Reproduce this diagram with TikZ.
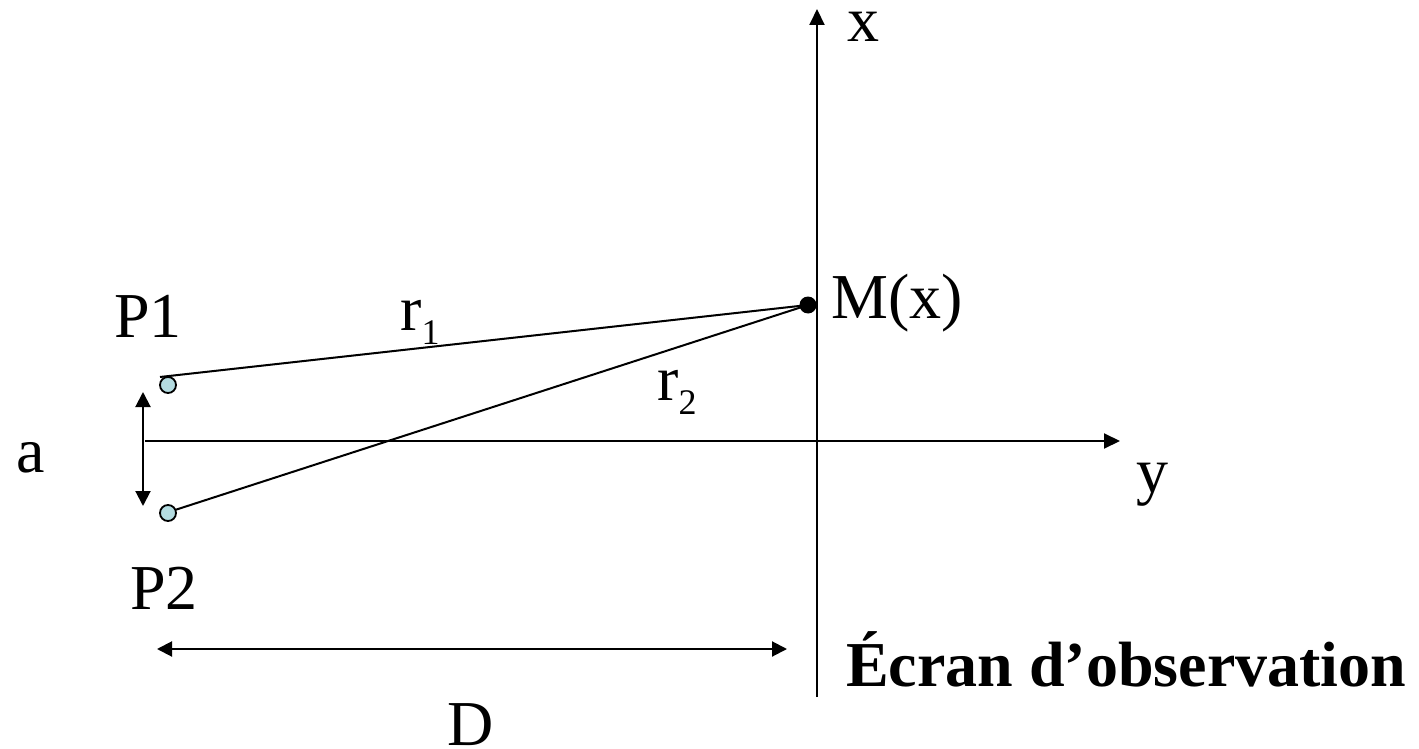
\documentclass[tikz,border=0pt]{standalone}
\usepackage{fontspec}
\setmainfont{Liberation Serif}
\usetikzlibrary{arrows.meta}
\definecolor{srcfill}{RGB}{180,220,225}
\newcommand{\subidx}[1]{\raisebox{-14pt}{\fontsize{36}{40}\selectfont #1}}
\tikzset{
  lbl/.style={inner sep=0pt, anchor=base, font=\fontsize{64}{76}\selectfont},
  axis/.style={line width=2pt, -{Triangle[length=16pt,width=15pt]}},
  dim/.style={line width=2pt, {Triangle[length=15pt,width=15pt]}-{Triangle[length=15pt,width=15pt]}},
  ray/.style={line width=2pt},
  src/.style={circle, draw=black, line width=1.8pt, fill=srcfill, minimum size=16pt, inner sep=0pt},
}
\begin{document}
\begin{tikzpicture}[x=1pt,y=-1pt]
\useasboundingbox (0,0) rectangle (1419,749);
% axes
\coordinate (xb) at (817,697);
\coordinate (xt) at (817,9);
\coordinate (yl) at (145,441);
\coordinate (yr) at (1120,441);
\draw[axis] (xb) -- (xt);
\draw[axis] (yl) -- (yr);
% sources
\node[src] (P1) at (168,385) {};
\node[src] (P2) at (168,513) {};
% M point
\node[circle, fill=black, minimum size=17pt, inner sep=0pt] (M) at (808,305) {};
% rays
\coordinate (p1s) at (160,377);
\coordinate (p2s) at (175,510);
\draw[ray] (p1s) -- (M.center);
\draw[ray] (p2s) -- (M.center);
% dimension arrows
\coordinate (at) at (143,392);
\coordinate (ab) at (143,506);
\draw[dim] (at) -- (ab);
\coordinate (dl) at (157,649);
\coordinate (dr) at (787,649);
\draw[dim] (dl) -- (dr);
% labels
\node[lbl] (lx) at (863,42) {x};
\node[lbl] (ly) at (1152,492) {y};
\node[lbl, anchor=base west] (lp1) at (114,337) {P1};
\node[lbl, anchor=base west] (lr1) at (400,330) {r\subidx{1}};
\node[lbl, anchor=base west] (lr2) at (657,400) {r\subidx{2}};
\node[lbl, anchor=base west] (lM) at (831,318) {M(x)};
\node[lbl] (la) at (31,472) {a};
\node[lbl, anchor=base west] (lp2) at (130,609) {P2};
\node[lbl, anchor=base west] (lD) at (447,745) {D};
\node[lbl, anchor=base west, font=\fontsize{64}{76}\selectfont\bfseries] (lE) at (846,686) {Écran d’observation};
\end{tikzpicture}
\end{document}
